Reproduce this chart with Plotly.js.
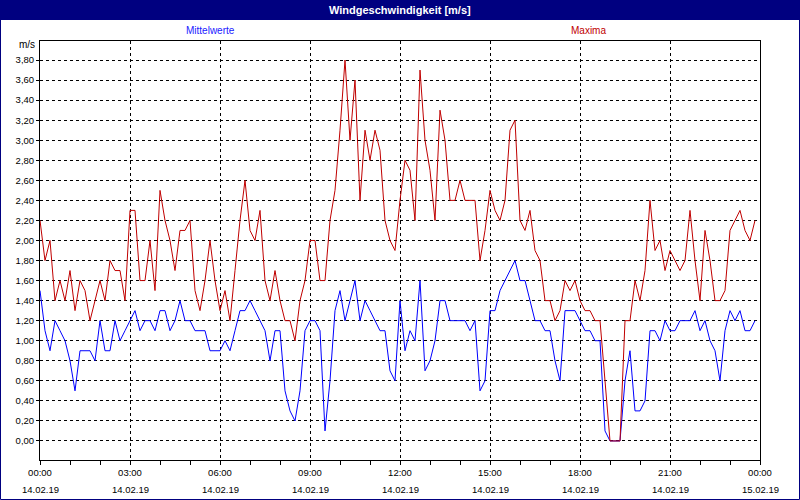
<!DOCTYPE html>
<html>
<head>
<meta charset="utf-8">
<script src="https://cdn.plot.ly/plotly-3.0.1.min.js"></script>
<style>
html,body{margin:0;padding:0;background:#fff;}
#chart{width:800px;height:500px;}
</style>
</head>
<body>
<div id="chart"></div>
<script>
// 10-minute readings, 14.02.19 00:00 .. 23:50
const stepMinutes = 10;
const maxima = [
2.2,1.8,2.0,1.4,1.6,1.4,1.7,1.3,1.6,1.5,1.2,1.4,1.6,1.4,1.8,1.7,1.7,1.4,
2.3,2.3,1.6,1.6,2.0,1.5,2.5,2.2,2.0,1.7,2.1,2.1,2.2,1.5,1.3,1.6,2.0,1.6,
1.3,1.5,1.2,1.7,2.2,2.6,2.1,2.0,2.3,1.6,1.4,1.7,1.4,1.2,1.2,1.0,1.4,1.6,
2.0,2.0,1.6,1.6,2.2,2.5,3.1,3.8,3.0,3.6,2.4,3.1,2.8,3.1,2.9,2.2,2.0,1.9,
2.4,2.8,2.7,2.2,3.7,3.0,2.7,2.2,3.3,3.0,2.4,2.4,2.6,2.4,2.4,2.4,1.8,2.1,
2.5,2.3,2.2,2.4,3.1,3.2,2.2,2.1,2.3,1.9,1.8,1.4,1.4,1.2,1.3,1.6,1.5,1.6,
1.4,1.3,1.3,1.2,1.2,0.6,0.0,0.0,0.0,1.2,1.2,1.6,1.4,1.7,2.4,1.9,2.0,1.7,
1.9,1.8,1.7,1.8,2.3,1.8,1.4,2.1,1.8,1.4,1.4,1.5,2.1,2.2,2.3,2.1,2.0,2.2];
const mittelwerte = [
1.5,1.1,0.9,1.2,1.1,1.0,0.8,0.5,0.9,0.9,0.9,0.8,1.2,0.9,0.9,1.2,1.0,1.1,
1.2,1.3,1.1,1.2,1.2,1.1,1.3,1.3,1.1,1.2,1.4,1.2,1.2,1.1,1.1,1.1,0.9,0.9,
0.9,1.0,0.9,1.1,1.3,1.3,1.4,1.3,1.2,1.1,0.8,1.1,1.1,0.5,0.3,0.2,0.5,1.1,
1.2,1.2,1.1,0.1,0.6,1.3,1.5,1.2,1.4,1.6,1.2,1.4,1.3,1.2,1.1,1.1,0.7,0.6,
1.4,0.9,1.1,1.0,1.6,0.7,0.8,1.0,1.4,1.4,1.2,1.2,1.2,1.2,1.1,1.2,0.5,0.6,
1.3,1.3,1.5,1.6,1.7,1.8,1.6,1.6,1.4,1.2,1.2,1.1,1.1,0.8,0.6,1.3,1.3,1.3,
1.2,1.1,1.1,1.0,1.0,0.1,0.0,0.0,0.0,0.6,0.9,0.3,0.3,0.4,1.1,1.1,1.0,1.2,
1.1,1.1,1.2,1.2,1.2,1.3,1.1,1.2,1.0,0.9,0.6,1.1,1.3,1.2,1.3,1.1,1.1,1.2];
const tickHours = [0,3,6,9,12,15,18,21,24];
const tickTimes = ["00:00","03:00","06:00","09:00","12:00","15:00","18:00","21:00","00:00"];
const tickDates = ["14.02.19","14.02.19","14.02.19","14.02.19","14.02.19","14.02.19","14.02.19","14.02.19","15.02.19"];
const titleText = "Windgeschwindigkeit [m/s]";
const seriesNames = ["Mittelwerte","Maxima"];
const unitLabel = "m/s";

const hours = maxima.map((_, i) => i * stepMinutes / 60);

const W = 800, H = 500, L = 40, R = 40, T = 41, B = 40;
const PW = W - L - R, PH = H - T - B;
const px = x => (x - L) / PW;
const py = y => (H - B - y) / PH;

const FONT = "Liberation Sans, Arial, sans-serif";
const BLUE = "#0000ff", RED = "#c00000", NAVY = "#000080";

const traces = [
  {x: hours, y: mittelwerte, type: "scatter", mode: "lines", name: seriesNames[0],
   line: {color: BLUE, width: 1}, hoverinfo: "skip"},
  {x: hours, y: maxima, type: "scatter", mode: "lines", name: seriesNames[1],
   line: {color: RED, width: 1}, hoverinfo: "skip"}
];

const annotations = [
  {xref: "paper", yref: "paper", x: px(400), y: py(10), text: "<b>" + titleText + "</b>", showarrow: false,
   xanchor: "center", yanchor: "middle", font: {family: FONT, size: 11, color: "#ffffff"}},
  {xref: "paper", yref: "paper", x: px(210), y: py(31), text: seriesNames[0], showarrow: false,
   xanchor: "center", yanchor: "middle", font: {family: FONT, size: 10, color: "#2020ff"}},
  {xref: "paper", yref: "paper", x: px(588), y: py(31), text: seriesNames[1], showarrow: false,
   xanchor: "center", yanchor: "middle", font: {family: FONT, size: 10, color: RED}},
  {xref: "paper", yref: "paper", x: px(37), y: py(45), text: unitLabel, showarrow: false,
   xanchor: "right", yanchor: "middle", font: {family: FONT, size: 10, color: "#000"}}
];
tickHours.forEach((h, i) => {
  annotations.push({xref: "x", yref: "paper", x: h, y: py(489), text: tickDates[i], showarrow: false,
    xanchor: "center", yanchor: "middle", font: {family: FONT, size: 9.5, color: "#000"}});
});

const layout = {
  width: W, height: H,
  margin: {l: L, r: R, t: T, b: B, pad: 0},
  paper_bgcolor: "#ffffff", plot_bgcolor: "#ffffff",
  showlegend: false,
  separators: ",.",
  font: {family: FONT, size: 10, color: "#000"},
  xaxis: {
    range: [0, 24], tickmode: "array", tickvals: tickHours, ticktext: tickTimes,
    showgrid: true, gridcolor: "#000", gridwidth: 1, griddash: "3px,3px",
    showline: true, linecolor: "#000", linewidth: 1, mirror: true,
    ticks: "outside", ticklen: 4, tickcolor: "#000",
    minor: {tickmode: "linear", tick0: 0, dtick: 1, ticks: "outside", ticklen: 4, tickcolor: "#000", showgrid: false},
    zeroline: false, fixedrange: true,
    tickfont: {family: FONT, size: 9.5, color: "#000"}
  },
  yaxis: {
    range: [-0.19, 3.99], tickmode: "linear", tick0: 0, dtick: 0.2, tickformat: ".2f",
    showgrid: true, gridcolor: "#000", gridwidth: 1, griddash: "3px,3px",
    showline: true, linecolor: "#000", linewidth: 1, mirror: true,
    ticks: "outside", ticklen: 3, tickcolor: "#000",
    zeroline: false, fixedrange: true,
    tickfont: {family: FONT, size: 9.5, color: "#000"}
  },
  shapes: [
    {type: "rect", xref: "paper", yref: "paper", x0: px(0), x1: px(W), y0: py(20), y1: py(0),
     fillcolor: NAVY, line: {width: 0}, layer: "above"},
    {type: "rect", xref: "paper", yref: "paper", x0: px(0.5), x1: px(W - 0.5), y0: py(H - 0.5), y1: py(0.5),
     fillcolor: "rgba(0,0,0,0)", line: {color: NAVY, width: 1}, layer: "above"}
  ],
  annotations: annotations
};

Plotly.newPlot("chart", traces, layout, {displayModeBar: false, staticPlot: true});
</script>
</body>
</html>
